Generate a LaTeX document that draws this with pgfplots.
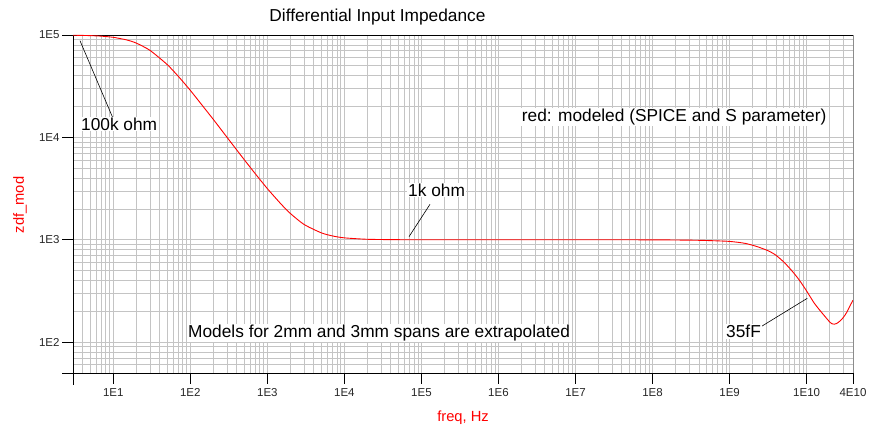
\documentclass[border=0pt]{standalone}
\usepackage{fontspec}
\setmainfont{Liberation Sans}
\usepackage{pgfplots}
\pgfplotsset{compat=1.18}

\definecolor{gridgray}{HTML}{C4C4C4}
\newcommand{\annfont}{\fontsize{17.3}{20}\selectfont}

\begin{document}
\begin{tikzpicture}
\useasboundingbox (-73pt,-61pt) rectangle (806pt,373pt);
\begin{axis}[
  xmode=log, ymode=log,
  scale only axis, width=780pt, height=338pt,
  xmin=3, xmax=4e10, ymin=50, ymax=1e5,
  xtick={1e1,1e2,1e3,1e4,1e5,1e6,1e7,1e8,1e9,1e10,4e10},
  xticklabels={1E1,1E2,1E3,1E4,1E5,1E6,1E7,1E8,1E9,1E10,4E10},
  ytick={1e2,1e3,1e4,1e5},
  yticklabels={1E2,1E3,1E4,1E5},
  minor xtick={4,5,6,7,8,9,
    20,30,40,50,60,70,80,90,
    200,300,400,500,600,700,800,900,
    2e3,3e3,4e3,5e3,6e3,7e3,8e3,9e3,
    2e4,3e4,4e4,5e4,6e4,7e4,8e4,9e4,
    2e5,3e5,4e5,5e5,6e5,7e5,8e5,9e5,
    2e6,3e6,4e6,5e6,6e6,7e6,8e6,9e6,
    2e7,3e7,4e7,5e7,6e7,7e7,8e7,9e7,
    2e8,3e8,4e8,5e8,6e8,7e8,8e8,9e8,
    2e9,3e9,4e9,5e9,6e9,7e9,8e9,9e9,
    2e10,3e10},
  minor ytick={60,70,80,90,
    200,300,400,500,600,700,800,900,
    2e3,3e3,4e3,5e3,6e3,7e3,8e3,9e3,
    2e4,3e4,4e4,5e4,6e4,7e4,8e4,9e4},
  grid=both,
  major grid style={gridgray, line width=0.8pt},
  minor grid style={gridgray, line width=0.8pt},
  tick align=outside,
  xtick pos=bottom, ytick pos=left,
  major tick length=11pt, minor tick length=0pt,
  tick style={black, line width=0.8pt},
  axis line style={black, line width=0.8pt},
  tick label style={font=\fontsize{11.5}{13}\selectfont, text=black!85},
  xticklabel style={yshift=-1pt},
  yticklabel style={xshift=1pt},
  clip=false,
]
\addplot[red, line width=0.9pt, smooth, tension=0.4] coordinates {
  (3,99500) (5,98600) (7,97400) (10,94900) (15,89400) (20,83200)
  (30,70700) (50,51500) (70,39400) (100,28800) (150,19600) (200,14900)
  (300,10000) (500,6070) (700,4400) (1000,3160) (1500,2240) (2000,1800)
  (3000,1410) (5000,1170) (7000,1090) (1e4,1044) (2e4,1011) (5e4,1002)
  (1e5,1000) (1e6,1000) (1e7,1000) (1e8,999) (3.16e8,991) (5.01e8,984)
  (1e9,964) (1.585e9,923) (2.24e9,861) (3.16e9,782) (3.98e9,708)
  (5.01e9,610) (6.31e9,507) (7.94e9,409) (1e10,316) (1.259e10,240)
  (1.585e10,193) (2e10,157) (2.14e10,151) (2.29e10,150) (2.45e10,152)
  (2.71e10,161) (2.99e10,174) (3.31e10,195) (3.63e10,224) (4e10,257)
};
\end{axis}
% axis extensions and right border
\draw[black, line width=0.8pt] (0,0) -- (0,-12pt);
\draw[black, line width=0.8pt] (0,0) -- (-11pt,0);
\draw[black!45, line width=0.8pt] (780pt,0) -- (780pt,338pt);
% titles
\node at (304.5pt,356.3pt) {\annfont Differential Input Impedance};
\node[red, rotate=90] at (-53pt,168pt) {\fontsize{14.7}{17}\selectfont zdf\_mod};
\node[red] at (390pt,-45pt) {\fontsize{14.7}{17}\selectfont freq, Hz};
% annotations
\draw[black, line width=0.6pt] (7pt,332.3pt) -- (40pt,254.7pt);
\node[anchor=west, fill=white, inner sep=1pt] at (7pt,249pt) {\annfont 100k ohm};
\draw[black, line width=0.6pt] (357pt,168.7pt) -- (336pt,136.3pt);
\node[anchor=west, fill=white, inner sep=1pt] at (334pt,183pt) {\annfont 1k ohm};
\node[anchor=west, fill=white, inner sep=1pt] at (447.7pt,256pt) {\annfont red: modeled (SPICE and S parameter)};
\node[anchor=west, fill=white, inner sep=1pt] at (114pt,40.3pt) {\annfont Models for 2mm and 3mm spans are extrapolated};
\draw[black, line width=0.6pt] (687pt,45.7pt) -- (734.3pt,74.7pt);
\node[anchor=west, fill=white, inner sep=1pt] at (652pt,41.3pt) {\annfont 35fF};
\end{tikzpicture}
\end{document}
